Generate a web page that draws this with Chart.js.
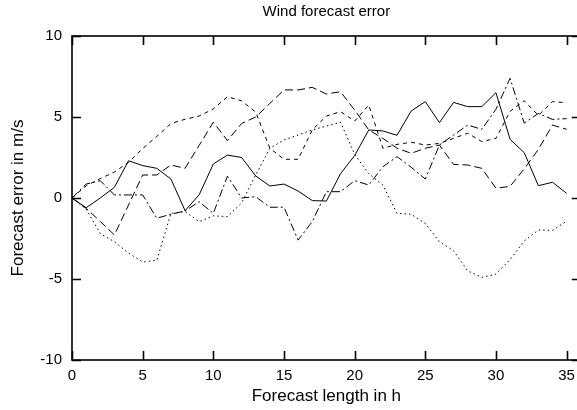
<!DOCTYPE html>
<html>
<head>
<meta charset="utf-8">
<script src="https://cdn.jsdelivr.net/npm/chart.js@4/dist/chart.umd.min.js"></script>
<style>
  html, body { margin: 0; padding: 0; background: #fff; overflow: hidden; }
  #wrap { position: relative; width: 582px; height: 410px; }
</style>
</head>
<body>
<div id="wrap"><canvas id="windChart"></canvas></div>
<script>
// forecast length in hours
const hours = [0, 1, 2, 3, 4, 5, 6, 7, 8, 9, 10, 11, 12, 13, 14, 15, 16, 17,
               18, 19, 20, 21, 22, 23, 24, 25, 26, 27, 28, 29, 30, 31, 32, 33, 34, 35];

// forecast error (m/s), one array per line in the plot
const solidErr    = [0, -0.6, 0.0, 0.66, 2.3, 2.0, 1.83, 1.17, -0.78, 0.2, 2.1, 2.65, 2.5, 1.36, 0.74, 0.86, 0.43, -0.16,
                     -0.19, 1.5, 2.62, 4.2, 4.14, 3.87, 5.37, 5.95, 4.65, 5.9, 5.64, 5.64, 6.5, 3.62, 2.8, 0.76, 0.97, 0.29];
const shortDashErr = [0, 0.75, 1.2, 1.6, 2.2, 3.05, 3.8, 4.6, 4.86, 5.06, 5.5, 6.25, 6.0, 5.3, 3.07, 2.39, 2.39, 4.2,
                     5.06, 5.33, 4.75, 5.74, 3.07, 3.31, 3.44, 3.27, 3.37, 3.68, 4.0, 3.48, 3.68, 5.35, 6.0, 5.1, 5.95, 5.88];
const longDashErr  = [0, -0.64, -1.45, -2.28, -0.43, 1.42, 1.42, 2.04, 1.83, 3.25, 4.68, 3.54, 4.6, 5.0, 5.84, 6.67, 6.67, 6.83,
                     6.42, 6.56, 5.43, 4.2, 3.68, 3.07, 2.76, 3.07, 3.27, 2.07, 2.04, 1.83, 0.6, 0.72, 1.8, 3.0, 4.5, 4.24];
const dashDotErr   = [0, 0.86, 1.07, 0.19, 0.19, 0.19, -1.25, -1.0, -0.8, -0.23, -0.95, 1.35, 0.0, 0.08, -0.57, -0.57, -2.6, -1.46,
                     0.39, 0.39, 1.07, 0.8, 1.93, 2.55, 1.9, 1.17, 3.27, 3.89, 4.5, 4.24, 5.48, 7.39, 4.62, 5.22, 4.85, 4.9];
const dottedErr    = [0, -0.68, -2.2, -2.7, -3.4, -3.95, -3.85, -0.95, -0.84, -1.46, -1.1, -1.15, -0.3, 1.42, 3.07, 3.58, 3.89, 4.2,
                     4.44, 4.68, 2.7, 1.5, 0.8, -0.95, -1.0, -1.57, -2.7, -3.25, -4.5, -4.9, -4.7, -3.8, -2.65, -1.98, -2.0, -1.43];

const xTicks = [0, 5, 10, 15, 20, 25, 30, 35];
const yTicks = [-10, -5, 0, 5, 10];

const FONT = '"Liberation Sans", Arial, Helvetica, sans-serif';

function series(values, dash) {
    return {
        data: values.map((v, i) => ({ x: hours[i], y: v })),
        borderColor: '#000',
        borderWidth: 1,
        borderDash: dash,
        pointRadius: 0,
        fill: false,
        tension: 0
    };
}

// box around the plot with inward tick marks on all four sides
const frame = {
    id: 'frame',
    afterDraw(chart) {
        const { ctx, chartArea: a, scales } = chart;
        const len = 9;
        ctx.save();
        ctx.strokeStyle = '#000';
        ctx.lineWidth = 1.6;
        ctx.strokeRect(a.left, a.top, a.right - a.left, a.bottom - a.top);
        ctx.beginPath();
        xTicks.forEach(v => {
            const px = Math.round(scales.x.getPixelForValue(v)) + 0.5;
            ctx.moveTo(px, a.bottom); ctx.lineTo(px, a.bottom - len);
            ctx.moveTo(px, a.top);    ctx.lineTo(px, a.top + len);
        });
        yTicks.forEach(v => {
            const py = Math.round(scales.y.getPixelForValue(v)) + 0.5;
            ctx.moveTo(a.left, py);  ctx.lineTo(a.left + len, py);
            ctx.moveTo(a.right, py); ctx.lineTo(a.right - len, py);
        });
        ctx.stroke();
        ctx.restore();
    }
};

new Chart(document.getElementById('windChart'), {
    type: 'line',
    data: {
        datasets: [
            series(solidErr, []),
            series(shortDashErr, [4, 4]),
            series(longDashErr, [8, 4]),
            series(dashDotErr, [8, 3, 2, 3]),
            series(dottedErr, [1.5, 3])
        ]
    },
    options: {
        responsive: true,
        maintainAspectRatio: false,
        animation: false,
        layout: { padding: { left: 0, right: 1, top: 0, bottom: 0 } },
        plugins: {
            legend: { display: false },
            tooltip: { enabled: false },
            title: {
                display: true,
                fullSize: false,
                text: 'Wind forecast error',
                color: '#000',
                font: { family: FONT, size: 15, weight: 'normal' },
                padding: { top: 3, bottom: 15 }
            }
        },
        scales: {
            x: {
                type: 'linear',
                min: 0,
                max: 36,
                afterBuildTicks: s => { s.ticks = xTicks.map(v => ({ value: v })); },
                afterFit: s => { s.height = 50; },
                grid: { display: false, drawTicks: false },
                border: { display: false },
                ticks: { color: '#000', font: { family: FONT, size: 15 }, padding: 7, maxRotation: 0 },
                title: {
                    display: true,
                    text: 'Forecast length in h',
                    color: '#000',
                    font: { family: FONT, size: 17 },
                    padding: { top: 0, bottom: 3 }
                }
            },
            y: {
                min: -10,
                max: 10,
                afterBuildTicks: s => { s.ticks = yTicks.map(v => ({ value: v })); },
                afterFit: s => { s.width = 72; },
                grid: { display: false, drawTicks: false },
                border: { display: false },
                ticks: { color: '#000', font: { family: FONT, size: 15 }, padding: 10 },
                title: {
                    display: true,
                    text: 'Forecast error in m/s',
                    color: '#000',
                    font: { family: FONT, size: 17 },
                    padding: { top: 8, bottom: 0 }
                }
            }
        }
    },
    plugins: [frame]
});
</script>
</body>
</html>
